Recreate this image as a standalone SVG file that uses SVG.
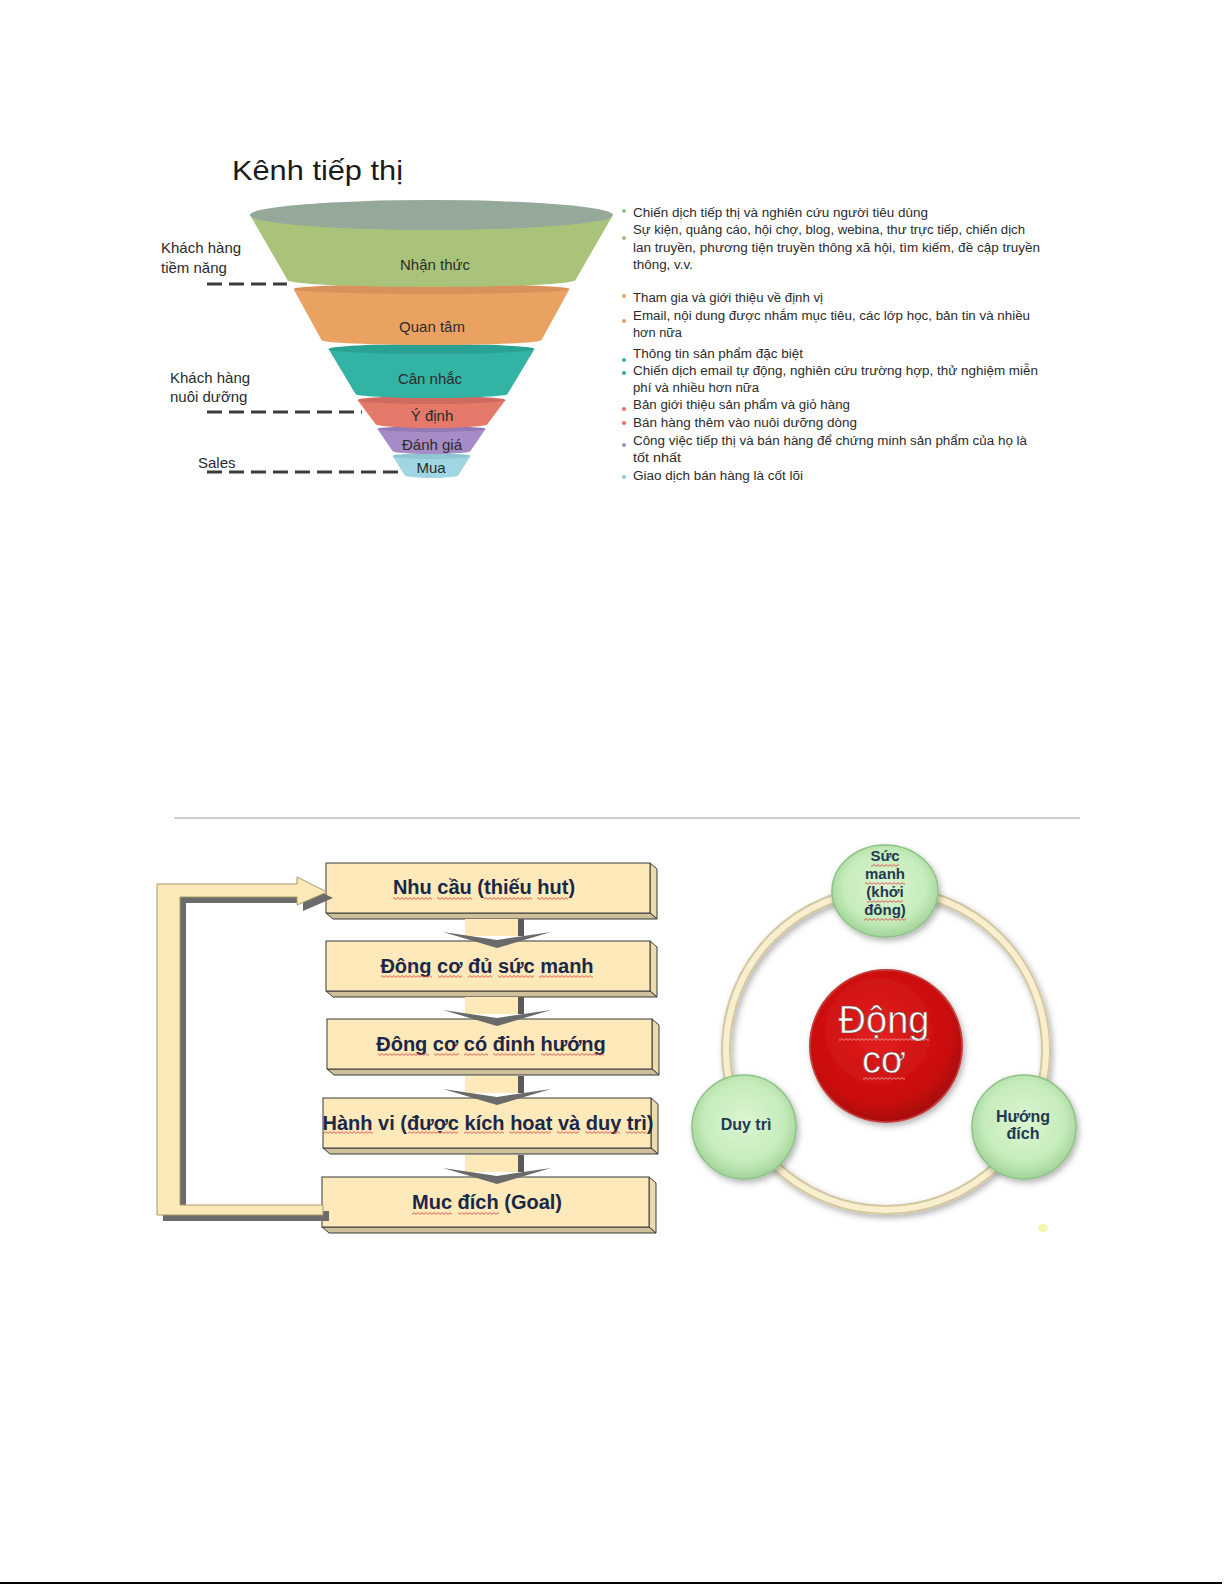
<svg xmlns="http://www.w3.org/2000/svg" xmlns:xlink="http://www.w3.org/1999/xlink" width="1225" height="1585" viewBox="0 0 1225 1585">
<style>
.lbl{font-family:"Liberation Sans",Arial,sans-serif;font-size:15px;fill:#2a2a2a}
.fl{font-family:"Liberation Sans",Arial,sans-serif;font-size:15px;fill:#2a2a2a;text-anchor:middle}
.note{font-family:"Liberation Sans",Arial,sans-serif;font-size:12.5px;fill:#2b2b2b}
.dash{stroke:#3c3c3c;stroke-width:3;stroke-dasharray:15 7;fill:none}
.box{fill:#fde9b9;stroke:#3a3a3a;stroke-width:1}
.side{fill:#ecdcab;stroke:#3a3a3a;stroke-width:1}
.bot{fill:#cdc09a;stroke:#3a3a3a;stroke-width:1}
.bt{font-family:"Liberation Sans",Arial,sans-serif;font-size:20px;font-weight:bold;fill:#1b2748;text-anchor:middle}
.ct{font-family:"Liberation Sans",Arial,sans-serif;font-size:15px;font-weight:bold;fill:#1e3a50;text-anchor:middle}
.ct2{font-family:"Liberation Sans",Arial,sans-serif;font-size:16px;font-weight:bold;fill:#1e3a50;text-anchor:middle}
.big{font-family:"Liberation Sans",Arial,sans-serif;font-size:38px;fill:#ffffff;stroke:#6a4040;stroke-width:0.6;text-anchor:middle}
.gc{fill:url(#gg);stroke:#8cc286;stroke-width:1.5;filter:url(#sh)}
.wv{fill:url(#wave)}
.wvp{fill:url(#wavep)}
</style>
<defs>
<pattern id="wave" width="4" height="3" patternUnits="userSpaceOnUse">
<path d="M0,2.4 L2,0.6 L4,2.4" fill="none" stroke="#e04848" stroke-width="0.9"/>
</pattern>
<pattern id="wavep" width="4" height="3" patternUnits="userSpaceOnUse">
<path d="M0,2.4 L2,0.6 L4,2.4" fill="none" stroke="#f39a9a" stroke-width="0.9"/>
</pattern>
<radialGradient id="gg" cx="50%" cy="45%" r="55%">
<stop offset="0" stop-color="#dcf5d2"/><stop offset="0.7" stop-color="#c6ecbc"/><stop offset="1" stop-color="#a2d498"/>
</radialGradient>
<radialGradient id="rg" cx="45%" cy="40%" r="60%">
<stop offset="0" stop-color="#e42020"/><stop offset="0.8" stop-color="#c80c0c"/><stop offset="1" stop-color="#a80808"/>
</radialGradient>
<filter id="sh" x="-30%" y="-30%" width="160%" height="160%">
<feDropShadow dx="2" dy="3" stdDeviation="3" flood-color="#000" flood-opacity="0.3"/>
</filter>
<g id="darrow">
<rect x="465" y="-22" width="53" height="17" fill="#fde9b9"/>
<rect x="518" y="-22" width="6" height="17" fill="#5a5a5a"/>
<polygon points="443,-9 497,-1 551,-9 497,7" fill="#6a6a6a"/>
</g>
</defs>
<rect width="1225" height="1585" fill="#ffffff"/>

<!-- Funnel -->
<g id="funnel-title">
<text x="232" y="180" font-family="Liberation Sans, Arial, sans-serif" font-size="28" fill="#1a1a1a" textLength="171" lengthAdjust="spacingAndGlyphs">Kênh tiếp thị</text>
</g>
<g id="stage-mua">
<path d="M392.5,456 L404.5,475 A27,3 0 0 0 458.5,475 L470.5,456 Z" fill="#a0d6e2"/>
<ellipse cx="431.5" cy="456" rx="39" ry="3" fill="#8ec6d4"/>
<text class="fl" x="431" y="473">Mua</text>
</g>
<g id="stage-danh-gia">
<path d="M377.5,429 L392.5,451 A39,3 0 0 0 470.5,451 L485.5,429 Z" fill="#a68cc6"/>
<ellipse cx="431.5" cy="429" rx="54" ry="3" fill="#9179b5"/>
<text class="fl" x="432" y="450">Đánh giá</text>
</g>
<g id="stage-y-dinh">
<path d="M357.5,400 L375.5,424 A56,4 0 0 0 487.5,424 L505.5,400 Z" fill="#e4796a"/>
<ellipse cx="431.5" cy="400" rx="74" ry="4" fill="#d06a5e"/>
<text class="fl" x="432" y="421">Ý định</text>
</g>
<g id="stage-can-nhac">
<path d="M328.5,349 L355.5,394 A76,4 0 0 0 507.5,394 L534.5,349 Z" fill="#32b3a4"/>
<ellipse cx="431.5" cy="349" rx="103" ry="5" fill="#2aa293"/>
<text class="fl" x="430" y="384">Cân nhắc</text>
</g>
<g id="stage-quan-tam">
<path d="M293.5,289 L321.5,340 A110,5 0 0 0 541.5,340 L569.5,289 Z" fill="#eaa262"/>
<ellipse cx="431.5" cy="289" rx="138" ry="5" fill="#d9905a"/>
<text class="fl" x="432" y="332">Quan tâm</text>
</g>
<g id="stage-nhan-thuc">
<path d="M250,215 L287.5,280 A144,7 0 0 0 575.5,280 L613,215 Z" fill="#a9c47a"/>
<ellipse cx="431.5" cy="215" rx="181.5" ry="15" fill="#94a99a"/>
<text class="fl" x="435" y="270">Nhận thức</text>
</g>

<g id="funnel-labels">
<text class="lbl" x="161" y="253">Khách hàng</text>
<text class="lbl" x="161" y="273">tiềm năng</text>
<text class="lbl" x="170" y="383">Khách hàng</text>
<text class="lbl" x="170" y="402">nuôi dưỡng</text>
<text class="lbl" x="198" y="468">Sales</text>
<line class="dash" x1="207" y1="284" x2="287" y2="284"/>
<line class="dash" x1="207" y1="412" x2="362" y2="412"/>
<line class="dash" x1="207" y1="472" x2="398" y2="472"/>
</g>

<g id="funnel-notes">
<circle cx="624" cy="211" r="2" fill="#9dc183"/>
<circle cx="624" cy="238" r="2" fill="#9dc183"/>
<circle cx="624" cy="296" r="2" fill="#e8a060"/>
<circle cx="624" cy="321" r="2" fill="#e8a060"/>
<circle cx="624" cy="360" r="2" fill="#3aa99f"/>
<circle cx="624" cy="373" r="2" fill="#3aa99f"/>
<circle cx="624" cy="409" r="2" fill="#e07060"/>
<circle cx="624" cy="423" r="2" fill="#e07060"/>
<circle cx="624" cy="445" r="2" fill="#9e8ec0"/>
<circle cx="624" cy="477" r="2" fill="#8ec8d8"/>
<text class="note" x="633" y="217" textLength="295" lengthAdjust="spacingAndGlyphs">Chiến dịch tiếp thị và nghiên cứu người tiêu dùng</text>
<text class="note" x="633" y="234" textLength="392" lengthAdjust="spacingAndGlyphs">Sự kiện, quảng cáo, hội chợ, blog, webina, thư trực tiếp, chiến dịch</text>
<text class="note" x="633" y="252" textLength="407" lengthAdjust="spacingAndGlyphs">lan truyền, phương tiện truyền thông xã hội, tìm kiếm, đề cập truyền</text>
<text class="note" x="633" y="269" textLength="60" lengthAdjust="spacingAndGlyphs">thông, v.v.</text>
<text class="note" x="633" y="302" textLength="190" lengthAdjust="spacingAndGlyphs">Tham gia và giới thiệu về định vị</text>
<text class="note" x="633" y="320" textLength="397" lengthAdjust="spacingAndGlyphs">Email, nội dung được nhắm mục tiêu, các lớp học, bản tin và nhiều</text>
<text class="note" x="633" y="337" textLength="49" lengthAdjust="spacingAndGlyphs">hơn nữa</text>
<text class="note" x="633" y="358" textLength="170" lengthAdjust="spacingAndGlyphs">Thông tin sản phẩm đặc biệt</text>
<text class="note" x="633" y="375" textLength="405" lengthAdjust="spacingAndGlyphs">Chiến dịch email tự động, nghiên cứu trường hợp, thử nghiệm miễn</text>
<text class="note" x="633" y="392" textLength="126" lengthAdjust="spacingAndGlyphs">phí và nhiều hơn nữa</text>
<text class="note" x="633" y="409" textLength="217" lengthAdjust="spacingAndGlyphs">Bản giới thiệu sản phẩm và giỏ hàng</text>
<text class="note" x="633" y="427" textLength="224" lengthAdjust="spacingAndGlyphs">Bán hàng thêm vào nuôi dưỡng dòng</text>
<text class="note" x="633" y="445" textLength="394" lengthAdjust="spacingAndGlyphs">Công việc tiếp thị và bán hàng để chứng minh sản phẩm của họ là</text>
<text class="note" x="633" y="462" textLength="48" lengthAdjust="spacingAndGlyphs">tốt nhất</text>
<text class="note" x="633" y="480" textLength="170" lengthAdjust="spacingAndGlyphs">Giao dịch bán hàng là cốt lõi</text>
</g>

<line x1="174" y1="818" x2="1080" y2="818" stroke="#cfcfcf" stroke-width="2"/>

<!-- Flow chart boxes -->
<g id="box-nhu-cau">
<polygon class="side" points="650,863 657,869 657,919 650,913"/>
<polygon class="bot" points="326,913 650,913 657,919 333,919"/>
<rect class="box" x="326" y="863" width="324" height="50"/>
<text class="bt" x="484" y="894">Nhu cầu (thiếu hut)</text>
<rect class="wv" x="393" y="897" width="39" height="3"/>
<rect class="wv" x="437" y="897" width="35" height="3"/>
<rect class="wv" x="484" y="897" width="48" height="3"/>
<rect class="wv" x="537" y="897" width="31" height="3"/>
</g>
<g id="box-suc-manh">
<polygon class="side" points="650,941 657,947 657,997 650,991"/>
<polygon class="bot" points="326,991 650,991 657,997 333,997"/>
<rect class="box" x="326" y="941" width="324" height="50"/>
<text class="bt" x="487" y="973">Đông cơ đủ sức manh</text>
<rect class="wv" x="381" y="975" width="51" height="3"/>
<rect class="wv" x="438" y="975" width="24" height="3"/>
<rect class="wv" x="468" y="975" width="24" height="3"/>
<rect class="wv" x="498" y="975" width="36" height="3"/>
<rect class="wv" x="539" y="975" width="54" height="3"/>
</g>
<g id="box-dinh-huong">
<polygon class="side" points="652,1019 659,1025 659,1075 652,1069"/>
<polygon class="bot" points="327,1069 652,1069 659,1075 334,1075"/>
<rect class="box" x="327" y="1019" width="325" height="50"/>
<text class="bt" x="491" y="1051">Đông cơ có đinh hướng</text>
<rect class="wv" x="378" y="1053" width="51" height="3"/>
<rect class="wv" x="434" y="1053" width="25" height="3"/>
<rect class="wv" x="464" y="1053" width="24" height="3"/>
<rect class="wv" x="493" y="1053" width="42" height="3"/>
<rect class="wv" x="541" y="1053" width="63" height="3"/>
</g>
<g id="box-hanh-vi">
<polygon class="side" points="651,1098 658,1104 658,1154 651,1148"/>
<polygon class="bot" points="323,1148 651,1148 658,1154 330,1154"/>
<rect class="box" x="323" y="1098" width="328" height="50"/>
<text class="bt" x="488" y="1130">Hành vi (được kích hoat và duy trì)</text>
<rect class="wv" x="323" y="1131" width="50" height="3"/>
<rect class="wv" x="408" y="1131" width="50" height="3"/>
<rect class="wv" x="464" y="1131" width="40" height="3"/>
<rect class="wv" x="509" y="1131" width="42" height="3"/>
<rect class="wv" x="557" y="1131" width="22" height="3"/>
<rect class="wv" x="585" y="1131" width="35" height="3"/>
<rect class="wv" x="626" y="1131" width="20" height="3"/>
</g>
<g id="box-muc-dich">
<polygon class="side" points="649,1177 656,1183 656,1233 649,1227"/>
<polygon class="bot" points="322,1227 649,1227 656,1233 329,1233"/>
<rect class="box" x="322" y="1177" width="327" height="50"/>
<text class="bt" x="487" y="1209">Muc đích (Goal)</text>
<rect class="wv" x="412" y="1212" width="40" height="3"/>
<rect class="wv" x="458" y="1212" width="41" height="3"/>
</g>

<g id="connectors">
<polygon points="163,890 303,890 303,883 333,898 303,911 303,903 186,903 186,1211 329,1211 329,1221 163,1221" fill="#6b6b6b"/>
<polygon points="157,884 297,884 297,877 327,892 297,905 297,897 180,897 180,1205 323,1205 323,1215 157,1215" fill="#fce9b8" stroke="#a8996c" stroke-width="1"/>
<use xlink:href="#darrow" transform="translate(0,941)"/>
<use xlink:href="#darrow" transform="translate(0,1019)"/>
<use xlink:href="#darrow" transform="translate(0,1098)"/>
<use xlink:href="#darrow" transform="translate(0,1177)"/>
</g>

<!-- Motivation cycle -->
<g id="ring">
<circle cx="886" cy="1050" r="160" fill="none" stroke="#d3c8a2" stroke-width="10" filter="url(#sh)"/>
<circle cx="886" cy="1050" r="160" fill="none" stroke="#f9efcf" stroke-width="6"/>
</g>
<g id="node-dong-co">
<circle cx="886" cy="1046" r="76" fill="url(#rg)" stroke="#c43a3a" stroke-width="2" filter="url(#sh)"/>
<text class="big" x="884" y="1033">Động</text>
<text class="big" x="884" y="1073">cơ</text>
<rect class="wvp" x="839" y="1038" width="90" height="3"/>
<rect class="wvp" x="863" y="1077" width="42" height="3"/>
</g>
<g id="node-suc-manh">
<ellipse class="gc" cx="885" cy="891" rx="53" ry="46"/>
<text class="ct" x="885" y="861">Sức</text>
<text class="ct" x="885" y="879">manh</text>
<text class="ct" x="885" y="897">(khởi</text>
<text class="ct" x="885" y="915">đông)</text>
<rect class="wv" x="871" y="864" width="28" height="3"/>
<rect class="wv" x="865" y="882" width="40" height="3"/>
<rect class="wv" x="867" y="900" width="36" height="3"/>
<rect class="wv" x="864" y="918" width="42" height="3"/>
</g>
<g id="node-duy-tri">
<circle class="gc" cx="744" cy="1127" r="52"/>
<text class="ct2" x="746" y="1130">Duy trì</text>
</g>
<g id="node-huong-dich">
<circle class="gc" cx="1024" cy="1127" r="52"/>
<text class="ct2" x="1023" y="1122">Hướng</text>
<text class="ct2" x="1023" y="1139">đích</text>
</g>
<ellipse cx="1043" cy="1228" rx="5" ry="4" fill="#eef59a" opacity="0.8"/>

<line x1="0" y1="1583" x2="1222" y2="1583" stroke="#000000" stroke-width="2"/>
</svg>
